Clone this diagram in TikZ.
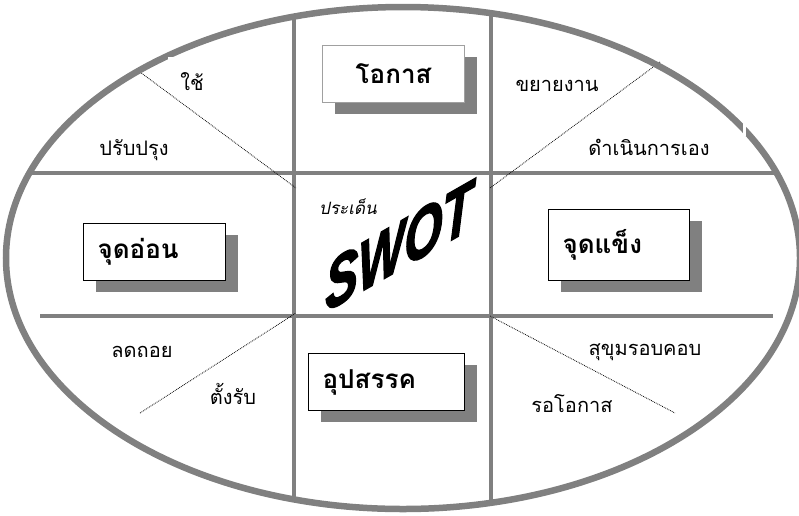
\documentclass[tikz,border=0pt]{standalone}
\usepackage{fontspec}
\newfontfamily\thai[Script=Thai]{Loma}
\newfontfamily\thaiit[Script=Thai,FakeSlant=0.2]{Loma}
\newfontfamily\swotfont[FakeBold=2.5]{Liberation Sans}
\definecolor{lgray}{HTML}{808080}
\definecolor{bgray}{HTML}{A0A0A0}
\begin{document}
\begin{tikzpicture}[x=1pt,y=1pt,
  frame/.style={draw=lgray, line width=4.5pt},
  rim/.style={draw=lgray, line width=6.5pt},
  guide/.style={densely dotted, line width=0.8pt},
  lbl/.style={font=\thai\fontsize{20}{24}\selectfont, inner sep=0pt},
  boxlbl/.style={draw=black, line width=1.2pt, fill=white,
    font=\thai\bfseries\fontsize{26}{30}\selectfont,
    inner xsep=14pt, inner ysep=0pt, anchor=north west, align=left,
    preaction={fill=lgray, transform canvas={shift={(12pt,-11pt)}}}},
]
\useasboundingbox (0,0) rectangle (799,-515);
% cross frame
\draw[frame] (294,-17) -- (294,-500);
\draw[frame] (491,-13) -- (491,-503);
\draw[frame] (29,-173) -- (777,-173);
\draw[frame] (40,-316) -- (773,-316);
% dotted guides
\draw[guide] (140,-72) -- (296,-188);
\draw[guide] (660,-62) -- (490,-188);
\draw[guide] (140,-413) -- (296,-313);
\draw[guide] (490,-316) -- (675,-413);
% outer ellipse
\draw[rim] (403,-258) ellipse [x radius=397, y radius=251];
\fill[white] (168,-57) rectangle (178,-63);
\fill[white] (743,-120) rectangle (746,-136);
% boxes
\node[boxlbl, draw=bgray, text width=114pt, minimum height=57pt, align=center] (opp) at (322,-45) {โอกาส};
\node[boxlbl, text width=114pt, minimum height=57pt] (weak) at (83,-223) {จุดอ่อน};
\node[boxlbl, text width=113pt, minimum height=71pt] (strong) at (548,-209) {จุดแข็ง};
\node[boxlbl, text width=128pt, minimum height=57pt] (threat) at (308,-353) {อุปสรรค};
% labels
\node[lbl] (use) at (192,-82) {ใช้};
\node[lbl] (improve) at (134,-150) {ปรับปรุง};
\node[lbl] (expand) at (557,-86) {ขยายงาน};
\node[lbl] (self) at (649,-147) {ดำเนินการเอง};
\node[lbl] (retreat) at (142,-352) {ลดถอย};
\node[lbl] (defend) at (233,-394) {ตั้งรับ};
\node[lbl] (careful) at (645,-352) {สุขุมรอบคอบ};
\node[lbl] (wait) at (572,-404) {รอโอกาส};
\node[font=\thaiit\fontsize{17}{20}\selectfont, inner sep=0pt] (issue) at (348,-207) {ประเด็น};
\begin{scope}[shift={(399,-246)}]
\node[font=\swotfont\bfseries\itshape\fontsize{70}{70}\selectfont, xscale=0.7, yslant=0.4, transform shape, inner sep=0pt] (swot) at (0,0) {SWOT};
\end{scope}
\end{tikzpicture}
\end{document}
